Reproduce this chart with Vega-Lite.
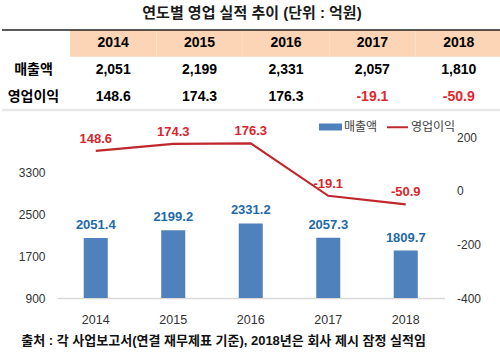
{
  "$schema": "https://vega.github.io/schema/vega-lite/v6.json",
  "padding": {"left": 0, "right": 0, "top": 6, "bottom": 0},
  "config": {"font": "Liberation Sans, Noto Sans CJK KR", "view": {"stroke": null}},
  "title": {"text": "연도별 영업 실적 추이 (단위 : 억원)", "fontSize": 15, "fontWeight": "bold", "color": "#1a1a1a", "anchor": "middle", "offset": 8},
  "spacing": 3,
  "resolve": {"scale": {"color": "independent"}, "legend": {"color": "independent"}},
  "vconcat": [
    {
      "width": 445,
      "height": 80,
      "data": {"values": [
        {"row": "h", "year": "2014", "text": "2014"},
        {"row": "h", "year": "2015", "text": "2015"},
        {"row": "h", "year": "2016", "text": "2016"},
        {"row": "h", "year": "2017", "text": "2017"},
        {"row": "h", "year": "2018", "text": "2018"},
        {"row": "매출액", "year": "2014", "text": "2,051"},
        {"row": "매출액", "year": "2015", "text": "2,199"},
        {"row": "매출액", "year": "2016", "text": "2,331"},
        {"row": "매출액", "year": "2017", "text": "2,057"},
        {"row": "매출액", "year": "2018", "text": "1,810"},
        {"row": "영업이익", "year": "2014", "text": "148.6"},
        {"row": "영업이익", "year": "2015", "text": "174.3"},
        {"row": "영업이익", "year": "2016", "text": "176.3"},
        {"row": "영업이익", "year": "2017", "text": "-19.1"},
        {"row": "영업이익", "year": "2018", "text": "-50.9"}
      ]},
      "encoding": {
        "x": {"field": "year", "type": "ordinal", "scale": {"domain": ["2014", "2015", "2016", "2017", "2018"], "paddingInner": 0, "paddingOuter": 0.075, "align": 1}, "axis": null},
        "y": {"field": "row", "type": "nominal", "scale": {"domain": ["h", "매출액", "영업이익"], "paddingInner": 0, "paddingOuter": 0},
          "axis": {"title": null, "orient": "left", "labelExpr": "datum.value === 'h' ? '' : datum.value", "labelAlign": "center", "labelPadding": 24, "ticks": false, "tickSize": 0, "domain": false, "labelFontSize": 14, "labelFontWeight": "bold", "labelColor": "#000000"}}
      },
      "layer": [
        {"transform": [{"filter": "datum.row === 'h'"}], "mark": {"type": "rect", "fill": "#FBD5B6"}},
        {"mark": {"type": "text", "fontSize": 14, "fontWeight": "bold"},
          "encoding": {"text": {"field": "text", "type": "nominal"},
            "color": {"condition": {"test": "indexof(datum.text, '-') === 0", "value": "#E3262D"}, "value": "#000000"}}},
        {"data": {"values": [{}]}, "mark": {"type": "rule", "stroke": "#222222", "strokeWidth": 1.5, "xOffset": -68},
          "encoding": {"x": {"datum": "2014", "bandPosition": 0}, "x2": {"datum": "2018", "bandPosition": 1}, "y": {"datum": "h", "bandPosition": 0}}},
        {"data": {"values": [{}]}, "mark": {"type": "rule", "stroke": "#E8E8E8", "strokeWidth": 2.5, "xOffset": -68},
          "encoding": {"x": {"datum": "2014", "bandPosition": 0}, "x2": {"datum": "2018", "bandPosition": 1}, "y": {"datum": "영업이익", "bandPosition": 1}}}
      ]
    },
    {
      "width": 387.5,
      "height": 161,
      "data": {"values": [
        {"year": "2014", "sales": 2051.4, "profit": 148.6},
        {"year": "2015", "sales": 2199.2, "profit": 174.3},
        {"year": "2016", "sales": 2331.2, "profit": 176.3},
        {"year": "2017", "sales": 2057.3, "profit": -19.1},
        {"year": "2018", "sales": 1809.7, "profit": -50.9}
      ]},
      "title": {"text": "출처 : 각 사업보고서(연결 재무제표 기준), 2018년은 회사 제시 잠정 실적임", "orient": "bottom", "anchor": "start", "frame": "bounds", "offset": 9, "fontSize": 13, "fontWeight": "bold", "color": "#111111", "dx": 3},
      "encoding": {
        "x": {"field": "year", "type": "ordinal", "scale": {"paddingInner": 0.69, "paddingOuter": 0.345},
          "axis": {"labelAngle": 0, "title": null, "ticks": false, "domainColor": "#D9D9D9", "domainWidth": 1.5, "labelPadding": 15, "labelFontSize": 12.5, "labelColor": "#333333"}}
      },
      "layer": [
        {"layer": [
          {"mark": {"type": "bar"},
            "encoding": {
              "y": {"field": "sales", "type": "quantitative", "scale": {"domain": [900, 3990], "nice": false, "zero": false},
                "axis": {"title": null, "values": [900, 1700, 2500, 3300], "grid": false, "domain": false, "ticks": false, "labelPadding": 12, "labelFontSize": 12, "labelColor": "#333333", "labelExpr": "'' + datum.value"}},
              "y2": {"datum": 900},
              "color": {"datum": "매출액", "type": "nominal", "scale": {"domain": ["매출액", "영업이익"], "range": ["#4F81BD", "#C0272D"]},
                "legend": {"title": null, "orient": "none", "legendX": 262, "legendY": -22, "direction": "horizontal", "symbolSize": 441, "labelFontSize": 12, "labelColor": "#404040", "columnPadding": 5, "labelOffset": 2, "symbolStrokeWidth": 2,
                  "encode": {"symbols": {"update": {
                    "shape": {"signal": "datum.value === '매출액' ? 'M-1,-0.24H1V0.24H-1Z' : 'M-1,0H1'"},
                    "fill": {"signal": "datum.value === '매출액' ? '#4F81BD' : 'transparent'"},
                    "stroke": {"signal": "datum.value === '매출액' ? 'transparent' : '#C0272D'"},
                    "strokeWidth": {"value": 2}}}}}}
            }},
          {"mark": {"type": "text", "dy": -13, "fontSize": 13, "fontWeight": "bold", "color": "#1F6AA8"},
            "encoding": {"y": {"field": "sales", "type": "quantitative"}, "text": {"field": "sales", "type": "nominal"}}}
        ]},
        {"layer": [
          {"mark": {"type": "line", "strokeWidth": 2.2},
            "encoding": {
              "y": {"field": "profit", "type": "quantitative", "scale": {"domain": [-400, 200], "nice": false},
                "axis": {"title": null, "orient": "right", "values": [-400, -200, 0, 200], "grid": false, "domain": false, "ticks": false, "labelPadding": 12, "labelFontSize": 12, "labelColor": "#333333", "labelExpr": "'' + datum.value"}},
              "color": {"datum": "영업이익", "type": "nominal"}
            }},
          {"mark": {"type": "text", "dy": -12, "fontSize": 13, "fontWeight": "bold", "color": "#D8262C"},
            "encoding": {"y": {"field": "profit", "type": "quantitative"}, "text": {"field": "profit", "type": "nominal"}}}
        ]}
      ],
      "resolve": {"scale": {"y": "independent"}}
    }
  ]
}
